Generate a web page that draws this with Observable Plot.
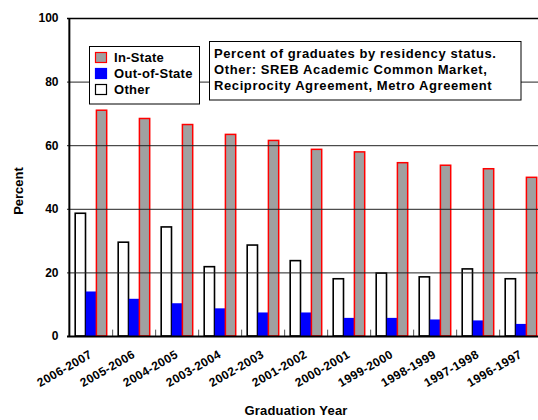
<!DOCTYPE html>
<html>
<head>
<meta charset="utf-8">
<script src="https://cdn.jsdelivr.net/npm/d3@7"></script>
<script src="https://cdn.jsdelivr.net/npm/@observablehq/plot@0.6"></script>
<style>
  html, body { margin: 0; padding: 0; background: #fff; }
  #chart svg { display: block; }
</style>
</head>
<body>
<div id="chart"></div>
<script>
const years = ["2006-2007","2005-2006","2004-2005","2003-2004","2002-2003","2001-2002","2000-2001","1999-2000","1998-1999","1997-1998","1996-1997"];
const inState  = [71.0, 68.4, 66.5, 63.4, 61.5, 58.7, 57.9, 54.5, 53.7, 52.6, 49.9];
const outState = [14.0, 11.7, 10.3, 8.7, 7.4, 7.4, 5.7, 5.7, 5.2, 4.9, 3.8];
const other    = [38.6, 29.5, 34.3, 21.8, 28.6, 23.7, 18.0, 19.8, 18.6, 21.1, 18.0];
const yTicks = [0, 20, 40, 60, 80, 100];
const gridValues = [20, 40, 60, 80];
const legendLabels = ["In-State", "Out-of-State", "Other"];
const noteLines = [
  "Percent of graduates by residency status.",
  "Other: SREB Academic Common Market,",
  "Reciprocity Agreement, Metro Agreement"
];

const data = years.map((year, i) => ({year, inState: inState[i], outState: outState[i], other: other[i]}));

const FONT = "'Liberation Sans', Arial, Helvetica, sans-serif";
const W = 538, H = 420;
const bw = (543.3 - 67) / years.length;

const svg = Plot.plot({
  width: W,
  height: H,
  marginLeft: 67,
  marginRight: 0,
  marginTop: 18,
  marginBottom: 84,
  style: {fontFamily: FONT, fontWeight: "bold", background: "#fff", color: "#000"},
  x: {domain: years, range: [67, 543.3], padding: 0, label: null},
  y: {domain: [0, 100], label: null},
  marks: [
    Plot.barY(data, {x: "year", y: "other", fill: "white", stroke: "black", strokeWidth: 1.6, insetLeft: 6.2, insetRight: bw - 16.8}),
    Plot.barY(data, {x: "year", y: "outState", fill: "#0000ff", insetLeft: 16.8, insetRight: bw - 27.4}),
    Plot.barY(data, {x: "year", y: "inState", fill: "#a0a0a0", stroke: "#ff0000", strokeWidth: 1.5, insetLeft: 27.4, insetRight: bw - 38}),
    Plot.ruleY(gridValues, {stroke: "#222", strokeWidth: 1}),
    Plot.ruleX(years, {x: d => d, dx: bw / 2, y1: 0, y2: 2, stroke: "#555", strokeWidth: 1}),
    Plot.ruleY([100], {stroke: "black", strokeWidth: 1.5}),
    Plot.ruleY([0], {stroke: "black", strokeWidth: 2}),
    Plot.ruleX([years[0]], {x: d => d, dx: -bw / 2, y1: 0, y2: 100, stroke: "black", strokeWidth: 2}),
    Plot.axisY(yTicks, {tickSize: 0, tickPadding: 9, fontSize: 12, fontWeight: "bold", label: null}),
    Plot.axisX({tickSize: 0, tickPadding: 17, tickRotate: -30, dx: 0, fontSize: 12, fontWeight: "bold", label: null})
  ]
});

const s = d3.select(svg);
s.selectAll("[aria-label='x-axis tick label'] text").style("letter-spacing", "0.4px");

// axis titles
s.append("text")
  .attr("x", 296).attr("y", 415)
  .attr("text-anchor", "middle")
  .style("font", `bold 13px ${FONT}`)
  .style("letter-spacing", "0.2px")
  .text("Graduation Year");
s.append("text")
  .attr("transform", "translate(22.5,191) rotate(-90)")
  .attr("text-anchor", "middle")
  .style("font", `bold 13px ${FONT}`)
  .text("Percent");

// legend
const lg = s.append("g");
lg.append("rect").attr("x", 89.5).attr("y", 46.5).attr("width", 110).attr("height", 57.5)
  .attr("fill", "white").attr("stroke", "black").attr("stroke-width", 1);
const swatchFill = ["#a0a0a0", "#0000ff", "white"];
const swatchStroke = ["#ff0000", "#0000ff", "black"];
legendLabels.forEach((lab, i) => {
  lg.append("rect").attr("x", 95.5).attr("y", 52.5 + i * 16).attr("width", 11).attr("height", 10)
    .attr("fill", swatchFill[i]).attr("stroke", swatchStroke[i]).attr("stroke-width", 1.2);
  lg.append("text").attr("x", 114).attr("y", 61.5 + i * 16)
    .attr("text-anchor", "start")
    .style("font", `bold 13px ${FONT}`)
    .style("letter-spacing", "0.3px")
    .text(lab);
});

// note box
const nb = s.append("g");
nb.append("rect").attr("x", 209.5).attr("y", 41.5).attr("width", 311.5).attr("height", 58.5)
  .attr("fill", "white").attr("stroke", "black").attr("stroke-width", 1);
noteLines.forEach((t, i) => {
  nb.append("text").attr("x", 214).attr("y", 57.5 + i * 16)
    .attr("text-anchor", "start")
    .style("font", `bold 13px ${FONT}`)
    .style("letter-spacing", "0.6px")
    .text(t);
});

document.getElementById("chart").appendChild(svg);
</script>
</body>
</html>
